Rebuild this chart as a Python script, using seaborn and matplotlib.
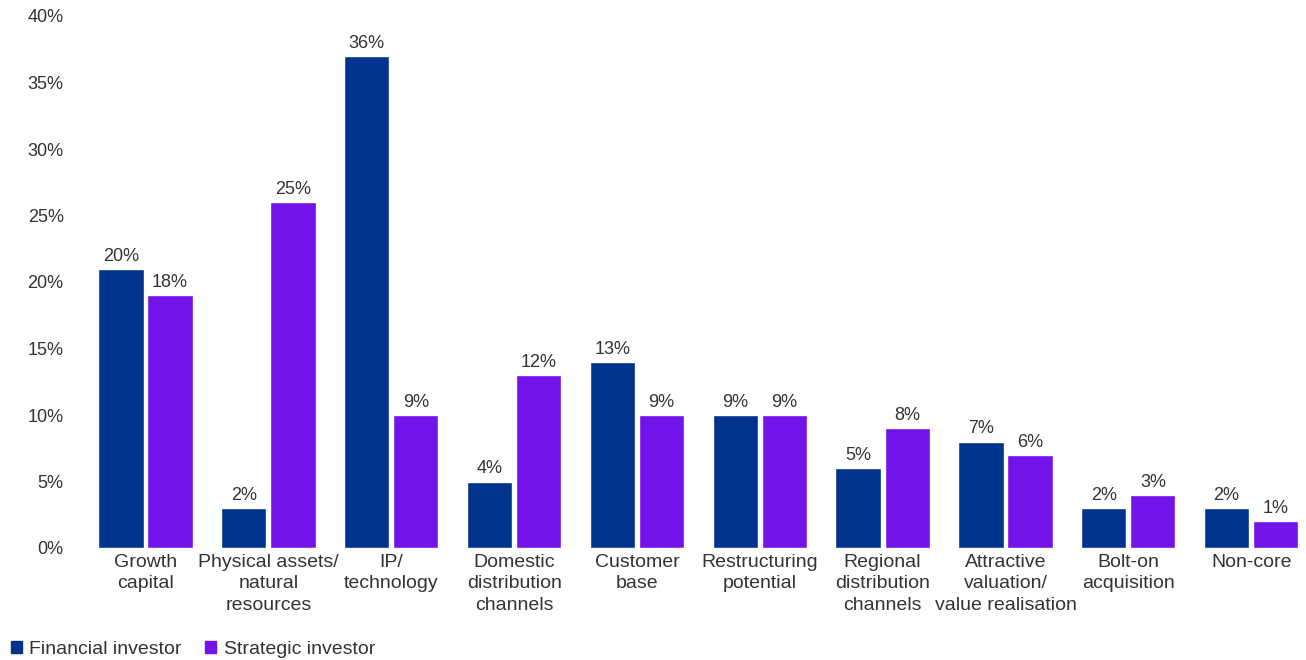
import pandas as pd
import matplotlib.pyplot as plt
import seaborn as sns
from matplotlib.patches import Patch

sns.set_style("white")
plt.rcParams['font.family'] = ['Liberation Sans', 'DejaVu Sans']

# data (bar heights as drawn, labels as printed)
categories = ['Growth\ncapital', 'Physical assets/\nnatural\nresources', 'IP/\ntechnology',
              'Domestic\ndistribution\nchannels', 'Customer\nbase', 'Restructuring\npotential',
              'Regional\ndistribution\nchannels', 'Attractive\nvaluation/\nvalue realisation',
              'Bolt-on\nacquisition', 'Non-core']
financial = [21, 3, 37, 5, 14, 10, 6, 8, 3, 3]
strategic = [19, 26, 10, 13, 10, 10, 9, 7, 4, 2]
financial_labels = ['20%', '2%', '36%', '4%', '13%', '9%', '5%', '7%', '2%', '2%']
strategic_labels = ['18%', '25%', '9%', '12%', '9%', '9%', '8%', '6%', '3%', '1%']
series = ['Financial investor', 'Strategic investor']
colors = ['#00338D', '#7213EA']
yticks = [0, 5, 10, 15, 20, 25, 30, 35, 40]

df = pd.DataFrame({
    'Category': categories * 2,
    'Value': financial + strategic,
    'Investor': [series[0]] * len(categories) + [series[1]] * len(categories),
})

txt = '#333333'
fig = plt.figure(figsize=(13.06, 6.6), dpi=100)
ax = fig.add_axes([97 / 1306, 112 / 660, (1304 - 97) / 1306, (548 - 16) / 660])

sns.barplot(data=df, x='Category', y='Value', hue='Investor', palette=colors,
            width=0.8, gap=0.08, ax=ax, legend=False, saturation=1)

for cont, labs in zip(ax.containers, [financial_labels, strategic_labels]):
    ax.bar_label(cont, labels=labs, padding=3, fontsize=13, color=txt)

ax.set_ylim(0, 40)
ax.set_xlim(-0.395, 9.43)
ax.set_yticks(yticks)
ax.set_yticklabels([f'{t}%' for t in yticks])
ax.tick_params(axis='y', length=0, pad=24, labelsize=13, labelcolor=txt)
ax.tick_params(axis='x', length=0, pad=4, labelsize=14, labelcolor=txt)
for lab in ax.get_xticklabels():
    lab.set_linespacing(1.35)
    lab.set_va('top')
ax.set_xlabel('')
ax.set_ylabel('')
sns.despine(ax=ax, left=True, bottom=True)

handles = [Patch(color=c, label=s) for c, s in zip(colors, series)]
fig.legend(handles=handles, loc='lower left', bbox_to_anchor=(-0.005, -0.023), ncol=2,
           frameon=False, fontsize=14, handlelength=0.55, handleheight=0.55,
           handletextpad=0.4, columnspacing=1.2, labelcolor=txt)

fig.savefig('out.png', dpi=100)
